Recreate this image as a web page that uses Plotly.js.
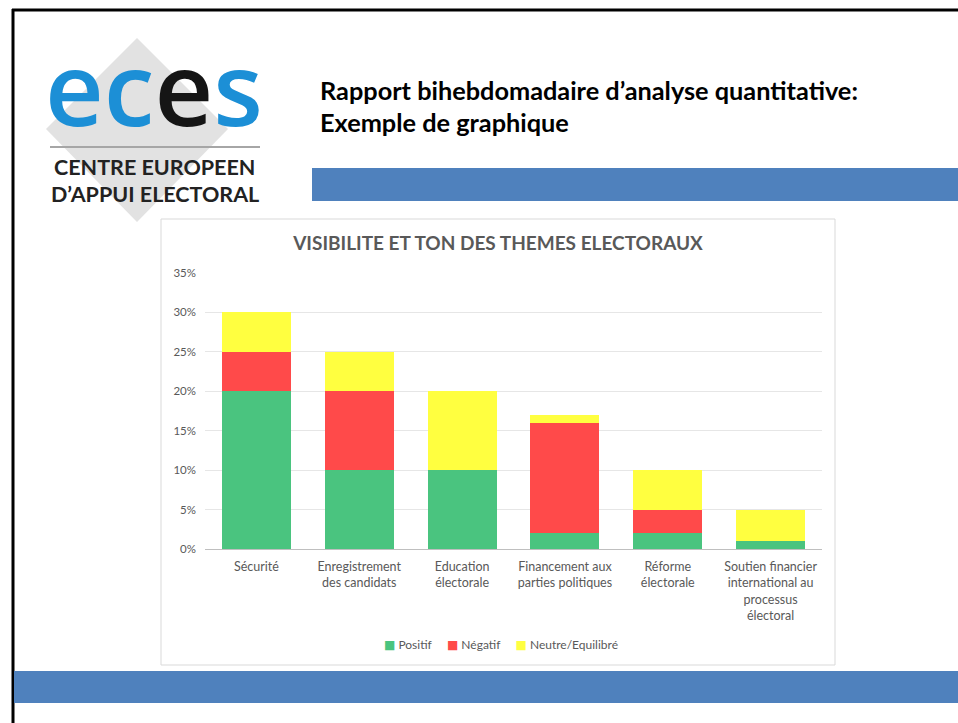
<!DOCTYPE html>
<html>
<head>
<meta charset="utf-8">
<script src="https://cdn.plot.ly/plotly-3.0.1.min.js"></script>
<style>
html,body{margin:0;padding:0;background:#fff;}
#chart{width:958px;height:723px;}
</style>
</head>
<body>
<div id="chart"></div>
<script>
// ---- data ----
const categories = [
  "Sécurité",
  "Enregistrement<br>des candidats",
  "Education<br>électorale",
  "Financement aux<br>parties politiques",
  "Réforme<br>électorale",
  "Soutien financier<br>international au<br>processus<br>électoral"
];
const positif = [20, 10, 10, 2, 2, 1];
const negatif = [5, 10, 0, 14, 3, 0];
const neutre  = [5, 5, 10, 1, 5, 4];
const seriesNames = ["Positif", "Négatif", "Neutre/Equilibré"];
const yTicks = [0, 5, 10, 15, 20, 25, 30, 35];

const chartTitle = "VISIBILITE ET TON DES THEMES ELECTORAUX";
const slideTitle1 = "Rapport bihebdomadaire d’analyse quantitative:";
const slideTitle2 = "Exemple de graphique";

// ---- helpers (pixel -> paper) ----
const W = 958, H = 723;
const px = x => x / W;
const py = y => 1 - y / H;

const colors = ["#4ac47f", "#ff4a4a", "#ffff40"];
const values = [positif, negatif, neutre];

const traces = values.map((v, i) => ({
  type: "bar",
  name: seriesNames[i],
  x: categories,
  y: v,
  marker: {color: colors[i]},
  hoverinfo: "x+y+name",
  showlegend: false
}));

const gray = "#595959";
const shapes = [
  // slide border
  {type:"line", xref:"paper", yref:"paper", x0:px(13), x1:px(13), y0:py(9), y1:py(723), line:{color:"#000", width:3}},
  {type:"line", xref:"paper", yref:"paper", x0:px(12), x1:px(958), y0:py(10), y1:py(10), line:{color:"#000", width:3}},
  // logo diamond
  {type:"path", xref:"paper", yref:"paper", layer:"below",
   path:`M ${px(137)},${py(38)} L ${px(228)},${py(129)} L ${px(137)},${py(222)} L ${px(46)},${py(129)} Z`,
   fillcolor:"#e2e2e2", line:{width:0}},
  // logo separator line
  {type:"line", xref:"paper", yref:"paper", x0:px(50), x1:px(260), y0:py(147), y1:py(147), line:{color:"#a6a6a6", width:2}},
  // blue bands
  {type:"rect", xref:"paper", yref:"paper", x0:px(312), x1:px(958), y0:py(168), y1:py(201), fillcolor:"#4f81bd", line:{width:0}},
  {type:"rect", xref:"paper", yref:"paper", x0:px(14), x1:px(958), y0:py(671), y1:py(703), fillcolor:"#4f81bd", line:{width:0}},
  // chart box
  {type:"rect", xref:"paper", yref:"paper", layer:"below", x0:px(161), x1:px(835), y0:py(219), y1:py(665), fillcolor:"#fff", line:{color:"#d9d9d9", width:1}}
];

const logoBlue = "#1c8fd6";
const logoText = `<span style="color:${logoBlue}">ec</span><span style="color:#151515">e</span><span style="color:${logoBlue}">s</span>`;
const legendText = seriesNames.map((n, i) =>
  `<span style="color:${colors[i]};font-family:'DejaVu Sans'">■</span> ${n}`).join("&nbsp;&nbsp;&nbsp;&nbsp;&nbsp;");

const annotations = [
  {text:logoText, x:px(154), y:py(86), font:{family:"Open Sans", size:102, weight:600}},
  {text:"CENTRE EUROPEEN", x:px(154), y:py(167), font:{family:"Lato", size:21.5, color:"#222", weight:"bold"}},
  {text:"D’APPUI ELECTORAL", x:px(155), y:py(194), font:{family:"Lato", size:21.5, color:"#222", weight:"bold"}},
  {text:slideTitle1, x:px(318), y:py(90), xanchor:"left", font:{family:"Lato", size:25.3, color:"#000", weight:"bold"}},
  {text:slideTitle2, x:px(318), y:py(122), xanchor:"left", font:{family:"Lato", size:25.3, color:"#000", weight:"bold"}},
  {text:legendText, x:px(501), y:py(644), font:{family:"Lato", size:12, color:gray}}
].map(a => Object.assign({xref:"paper", yref:"paper", xanchor:"center", yanchor:"middle", showarrow:false}, a));

const layout = {
  width: W, height: H,
  margin: {l:0, r:0, t:0, b:0},
  paper_bgcolor: "#fff",
  plot_bgcolor: "rgba(0,0,0,0)",
  barmode: "stack",
  bargap: 0.33,
  title: {
    text: chartTitle,
    x: px(498), y: py(243), xref:"container", yref:"container",
    xanchor: "center", yanchor: "middle",
    font: {family:"Lato", size:19, color:gray, weight:"bold"}
  },
  xaxis: {
    domain: [px(205), px(822)],
    tickfont: {family:"Lato", size:12.5, color:gray},
    showgrid: false, showline: true, linecolor:"#bfbfbf", linewidth:1,
    ticks: "", ticklabelstandoff: 6, fixedrange:true
  },
  yaxis: {
    domain: [py(549), py(273)],
    range: [0, 35],
    tickvals: yTicks,
    ticktext: yTicks.map(v => v + "%"),
    tickfont: {family:"Lato", size:11.5, color:gray},
    showgrid: true, gridcolor:"#e6e6e6", gridwidth:1,
    zeroline: false, showline:false, ticks:"", ticklabelstandoff: 8,
    fixedrange:true
  },
  showlegend: false,
  shapes: shapes,
  annotations: annotations
};

Plotly.newPlot("chart", traces, layout, {displayModeBar:false, staticPlot:true});
</script>
</body>
</html>
